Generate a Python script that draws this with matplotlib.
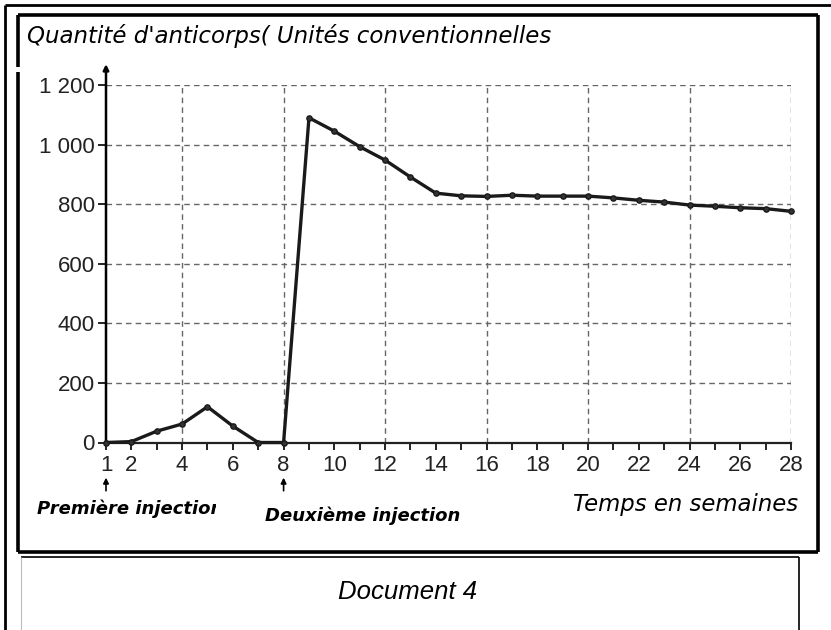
import matplotlib
matplotlib.use("Agg")
import matplotlib.pyplot as plt
from matplotlib.lines import Line2D
from matplotlib.transforms import Bbox

# ---- data ----
weeks = list(range(1, 29))
antibodies = [0, 3, 38, 62, 120, 55, 0, 0, 1090, 1045, 993, 948, 891, 837,
              828, 826, 830, 827, 827, 827, 821, 813, 807, 797, 793, 788, 785, 776]
xtick_values = [1, 2, 4, 6, 8, 10, 12, 14, 16, 18, 20, 22, 24, 26, 28]
ytick_values = [0, 200, 400, 600, 800, 1000, 1200]
ytick_labels = ["0", "200", "400", "600", "800", "1 000", "1 200"]
vgrid_weeks = [4, 8, 12, 16, 20, 24, 28]
injection_weeks = [1, 8]
title_text = "Quantité d'anticorps( Unités conventionnelles"
xlabel_text = "Temps en semaines"
inj_labels = ["Première injection", "Deuxième injection"]
doc_text = "Document 4"

W, H = 831, 630
fig = plt.figure(figsize=(W / 100, H / 100), dpi=100)
fig.patch.set_facecolor("white")

def fx(x):
    return x / W

def fy(y):
    return 1 - y / H

sans = ["Liberation Sans", "DejaVu Sans"]
wide = ["DejaVu Sans"]

# ---- frames ----
def fline(xs, ys, lw, color="black"):
    fig.add_artist(Line2D([fx(x) for x in xs], [fy(y) for y in ys],
                          lw=lw, color=color, solid_capstyle="butt"))

# outer thin border
fline([5, 831], [5, 5], 2.0)
fline([5, 5], [5, 630], 2.0)
# inner thick box
fline([18, 818], [15, 15], 2.6)
fline([818, 818], [15, 552], 2.6)
fline([18, 818], [552, 552], 2.6)
fline([18, 18], [15, 67], 2.6)
fline([18, 18], [72, 552], 2.6)
# document box
fline([21, 799], [557, 557], 1.2)
fline([21, 21], [557, 630], 0.8, color="#bbbbbb")
fline([799, 799], [557, 630], 1.2)

# ---- axes ----
x0, x1 = 106, 791
y0, y1 = 442.5, 85
ax = fig.add_axes([fx(x0), fy(y0), (x1 - x0) / W, (y0 - y1) / H])
ax.set_xlim(1, 28)
ax.set_ylim(0, 1200)
ax.patch.set_alpha(0)
for s in ["top", "right", "left"]:
    ax.spines[s].set_visible(False)
ax.spines["bottom"].set_linewidth(1.6)
ax.spines["bottom"].set_color("#222222")

# grid
for yv in ytick_values[1:]:
    ax.plot([1, 28], [yv, yv], ls=(0, (4, 3)), color="#666666", lw=1.0, zorder=1)
for xv in vgrid_weeks:
    ax.plot([xv, xv], [0, 1200], ls=(0, (4, 3)), color="#666666", lw=1.0, zorder=1)

# y axis with arrow
ax.annotate("", xy=(1, 1270), xytext=(1, 0), xycoords="data",
            arrowprops=dict(arrowstyle="-|>", lw=1.8, color="black",
                            mutation_scale=8, shrinkA=0, shrinkB=0),
            annotation_clip=False, zorder=4)

# ticks
ax.set_xticks(weeks, minor=True)
ax.set_xticks(xtick_values)
ax.set_xticklabels([str(v) for v in xtick_values], family=sans, fontsize=16,
                   color="#222222")
ax.tick_params(axis="x", which="both", direction="out", length=5, width=1.4,
               pad=4, color="#222222")
ax.set_yticks(ytick_values)
ax.set_yticklabels(ytick_labels, family=sans, fontsize=16, color="#222222")
ax.tick_params(axis="y", direction="out", length=6, width=1.4, pad=2,
               color="#222222")

# data line
ax.plot(weeks, antibodies, color="#1a1a1a", lw=2.4, marker="o", ms=3.8,
        mfc="#333333", mec="#1a1a1a", zorder=5, clip_on=False)

# injection arrows
for w in injection_weeks:
    ax.annotate("", xy=(w, -118), xytext=(w, -162), xycoords="data",
                arrowprops=dict(arrowstyle="-|>", lw=1.2, color="black",
                                mutation_scale=8, shrinkA=0, shrinkB=0),
                annotation_clip=False)

# ---- texts ----
fig.text(fx(27), fy(36), title_text, family=wide, style="italic",
         fontsize=16.5, va="center", ha="left")
t1 = fig.text(fx(37), fy(509), inj_labels[0], family=wide, style="italic",
              weight="bold", fontsize=13, va="center", ha="left")
t1.set_clip_on(True)
t1.set_clip_box(Bbox([[0, 0], [216, H]]))
fig.text(fx(265), fy(516), inj_labels[1], family=wide, style="italic",
         weight="bold", fontsize=13, va="center", ha="left")
fig.text(fx(798), fy(505), xlabel_text, family=wide, style="italic",
         fontsize=16.4, va="center", ha="right")
fig.text(fx(408), fy(592), doc_text, family=sans, style="italic",
         fontsize=18.5, va="center", ha="center")

fig.savefig("out.png", dpi=100)
